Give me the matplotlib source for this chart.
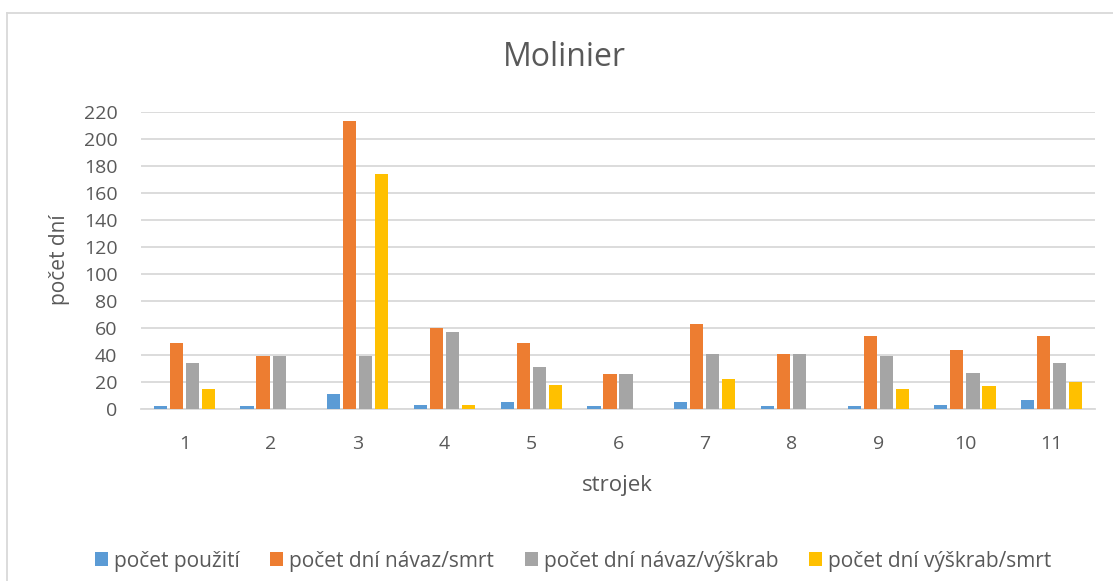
import matplotlib
matplotlib.use("Agg")
import matplotlib.pyplot as plt
import numpy as np
from matplotlib.lines import Line2D

plt.rcParams["font.family"] = ["Open Sans", "DejaVu Sans"]

strojky = ["1", "2", "3", "4", "5", "6", "7", "8", "9", "10", "11"]
pocet_pouziti = [2, 2, 11, 3, 5, 2, 5, 2, 2, 3, 7]
navaz_smrt = [49, 39, 213, 60, 49, 26, 63, 41, 54, 44, 54]
navaz_vyskrab = [34, 39, 39, 57, 31, 26, 41, 41, 39, 27, 34]
vyskrab_smrt = [15, 0, 174, 3, 18, 0, 22, 0, 15, 17, 20]

series = [
    ("počet použití", pocet_pouziti, "#5B9BD5"),
    ("počet dní návaz/smrt", navaz_smrt, "#ED7D31"),
    ("počet dní návaz/výškrab", navaz_vyskrab, "#A5A5A5"),
    ("počet dní výškrab/smrt", vyskrab_smrt, "#FFC000"),
]

W, H = 1113, 581
text_c = "#595959"
grid_c = "#D9D9D9"

fig = plt.figure(figsize=(W / 100, H / 100), dpi=100)
ax = fig.add_axes([141 / W, 1 - 409 / H, 954 / W, 297 / H])

x = np.arange(len(strojky))
step = 0.185
width = 0.152
for i, (name, vals, col) in enumerate(series):
    ax.bar(x + (i - 1.5) * step, vals, width, color=col, label=name, zorder=3)

ax.set_xlim(-0.5, len(strojky) - 0.5)
ax.set_ylim(0, 220)
ax.set_yticks(range(0, 221, 20))
ax.set_xticks(x)
ax.set_xticklabels(strojky)
ax.grid(axis="y", color=grid_c, lw=1.3, zorder=0)
ax.tick_params(axis="both", length=0, labelsize=14, colors=text_c)
ax.tick_params(axis="y", pad=17)
ax.tick_params(axis="x", pad=19)
for s in ["top", "right", "left"]:
    ax.spines[s].set_visible(False)
ax.spines["bottom"].set_color(grid_c)
ax.spines["bottom"].set_linewidth(1.3)

ax.set_xlabel("strojek", fontsize=16, color=text_c, va="center")
ax.xaxis.set_label_coords((617 - 141) / 954, (409 - 486) / 297)
ax.set_ylabel("počet dní", fontsize=15, color=text_c, va="center")
ax.yaxis.set_label_coords((60 - 141) / 954, (409 - 260) / 297)

fig.text(564 / W, 1 - 57 / H, "Molinier", fontsize=23, color=text_c,
         ha="center", va="center")

fig.legend(loc="center", bbox_to_anchor=(573 / W, 1 - 561 / H), ncol=4,
           frameon=False, fontsize=15, labelcolor=text_c,
           handlelength=0.63, handleheight=0.63, handletextpad=0.3,
           columnspacing=1.45)

# chart border (top and left edges visible)
fig.add_artist(Line2D([7 / W, 7 / W], [0, 1 - 13 / H], transform=fig.transFigure,
                      color=grid_c, lw=1.3))
fig.add_artist(Line2D([7 / W, 1], [1 - 13 / H, 1 - 13 / H], transform=fig.transFigure,
                      color=grid_c, lw=1.3))

fig.savefig("out.png", dpi=100)
